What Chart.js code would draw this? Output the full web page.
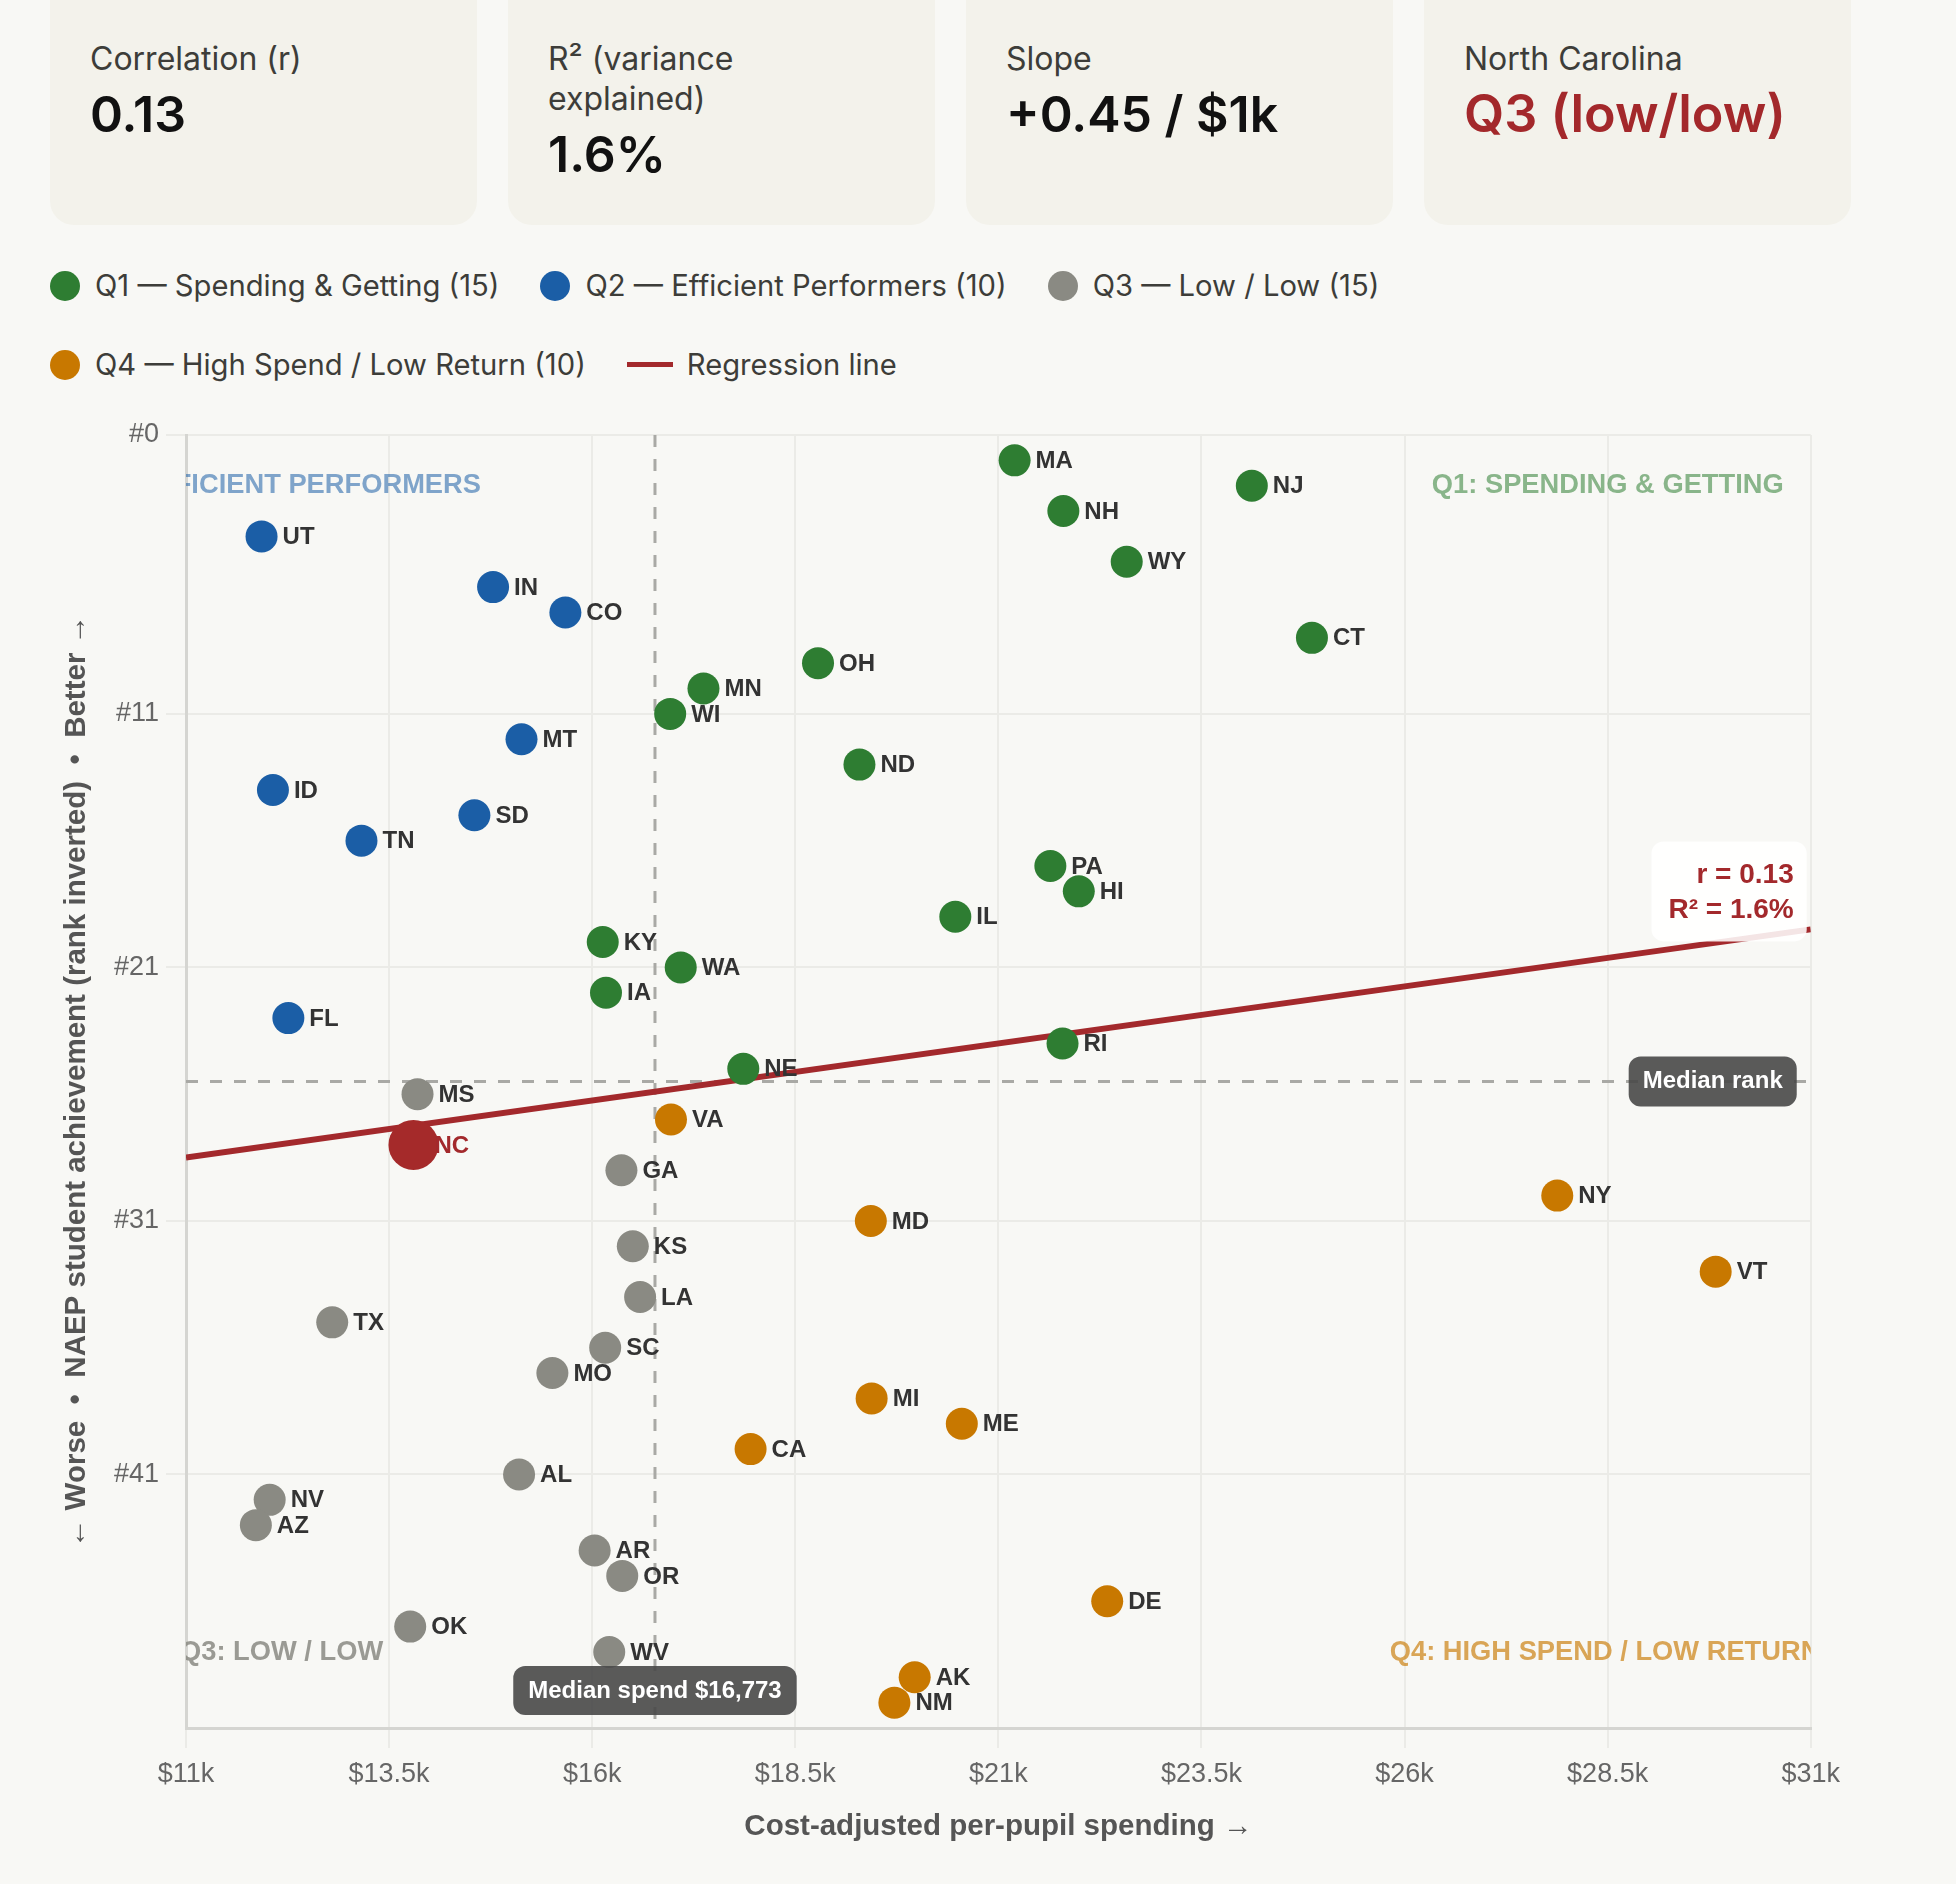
<!DOCTYPE html>
<html>
<head>
<meta charset="utf-8">
<script src="https://cdn.jsdelivr.net/npm/chart.js@4.4.1/dist/chart.umd.min.js"></script>
<style>
  html, body { margin: 0; padding: 0; background: #f8f8f5; }
  body { width: 1956px; height: 1884px; overflow: hidden; position: relative;
         font-family: Inter, "Noto Sans", sans-serif; color: #3b3b37; }
  .cards { position: absolute; left: 50px; top: -24px; display: flex; gap: 31px; }
  .card { width: 427px; height: 249px; box-sizing: border-box; padding: 63px 40px 0 40px;
          background: #f3f2eb; border-radius: 24px; }
  .card .lbl { font-size: 32px; line-height: 40px; color: #3d3d39; }
  .card .val { font-size: 50px; line-height: 56px; font-weight: 600; color: #111; margin-top: 7px; }
  .card .val.red { color: #a3282b; font-size: 52px; }
  .legend { position: absolute; left: 50px; top: 268px; width: 1800px; display: flex; flex-wrap: wrap;
            column-gap: 41px; row-gap: 44px; }
  .item { display: flex; align-items: center; height: 35px; font-size: 29.2px; color: #3d3d39; }
  .dot { width: 30px; height: 30px; border-radius: 50%; margin-right: 15px; }
  .bar { width: 46px; height: 5px; margin-right: 14px; }
  #wrap { position: absolute; left: 50px; top: 410px; width: 1800px; height: 1436px; }
</style>
</head>
<body>
<div class="cards">
  <div class="card"><div class="lbl">Correlation (r)</div><div class="val">0.13</div></div>
  <div class="card"><div class="lbl">R² (variance explained)</div><div class="val">1.6%</div></div>
  <div class="card"><div class="lbl">Slope</div><div class="val">+0.45 / $1k</div></div>
  <div class="card"><div class="lbl">North Carolina</div><div class="val red">Q3 (low/low)</div></div>
</div>
<div class="legend" id="legend"></div>
<div id="wrap"><canvas id="chart"></canvas></div>

<script>
// spending in $k (cost-adjusted), rank = NAEP achievement rank (1 = best)
const q1States = ['MA', 'NJ', 'NH', 'WY', 'CT', 'OH', 'MN', 'WI', 'ND', 'PA', 'HI', 'IL', 'KY', 'WA', 'IA', 'RI', 'NE'];
const q1Spend  = [21.20, 24.12, 21.80, 22.58, 24.86, 18.78, 17.37, 16.96, 19.29, 21.64, 21.99, 20.47, 16.13, 17.09, 16.17, 21.79, 17.86];
const q1Rank   = [1, 2, 3, 5, 8, 9, 10, 11, 13, 17, 18, 19, 20, 21, 22, 24, 25];

const q2States = ['UT', 'IN', 'CO', 'MT', 'ID', 'SD', 'TN', 'FL'];
const q2Spend  = [11.93, 14.78, 15.67, 15.13, 12.07, 14.55, 13.16, 12.26];
const q2Rank   = [4, 6, 7, 12, 14, 15, 16, 23];

const q3States = ['MS', 'GA', 'KS', 'LA', 'TX', 'SC', 'MO', 'AL', 'NV', 'AZ', 'AR', 'OR', 'OK', 'WV'];
const q3Spend  = [13.85, 16.36, 16.50, 16.59, 12.80, 16.16, 15.51, 15.10, 12.03, 11.86, 16.03, 16.37, 13.76, 16.21];
const q3Rank   = [26, 29, 32, 34, 35, 36, 37, 41, 42, 43, 44, 45, 47, 48];

const q4States = ['VA', 'NY', 'MD', 'VT', 'MI', 'ME', 'CA', 'DE', 'AK', 'NM'];
const q4Spend  = [16.97, 27.88, 19.43, 29.83, 19.44, 20.55, 17.95, 22.34, 19.97, 19.72];
const q4Rank   = [27, 30, 31, 33, 38, 39, 40, 46, 49, 50];

const ncStates = ['NC'];
const ncSpend  = [13.80];
const ncRank   = [28];

// regression line end points
const regSpend = [11, 31];
const regRank  = [28.5, 19.5];

const medianSpend = 16.773;
const medianRank = 25.5;
const yTicks = [0, 11, 21, 31, 41];

const legendLabels = ['Q1 — Spending & Getting (15)', 'Q2 — Efficient Performers (10)',
                      'Q3 — Low / Low (15)', 'Q4 — High Spend / Low Return (10)'];

const GREEN = '#2e7d32', BLUE = '#1b5ea6', GRAY = '#8a8a83', ORANGE = '#c87800', RED = '#a3292c';
const FONT = 'Helvetica, Arial, "Liberation Sans", sans-serif';

// html legend
const legendEl = document.getElementById('legend');
[GREEN, BLUE, GRAY, ORANGE].forEach((c, i) => {
  legendEl.insertAdjacentHTML('beforeend',
    '<div class="item"><span class="dot" style="background:' + c + '"></span>' + legendLabels[i] + '</div>');
});
legendEl.insertAdjacentHTML('beforeend',
  '<div class="item"><span class="bar" style="background:' + RED + '"></span>Regression line</div>');

function pts(spend, rank, states) {
  return spend.map((v, i) => ({ x: v, y: rank[i], state: states[i] }));
}

function pointSet(spend, rank, states, color, r, order) {
  return {
    type: 'scatter',
    data: pts(spend, rank, states),
    backgroundColor: color,
    borderWidth: 0,
    pointRadius: r,
    pointHoverRadius: r,
    order: order
  };
}

const quadLabels = [
  { text: 'Q2: EFFICIENT PERFORMERS', color: 'rgba(27,94,166,0.55)', align: 'right', x: a => a.left + 295, y: a => a.top + 50 },
  { text: 'Q1: SPENDING & GETTING', color: 'rgba(46,125,50,0.55)', align: 'right', x: a => a.right - 27, y: a => a.top + 50 },
  { text: 'Q3: LOW / LOW', color: 'rgba(138,138,131,0.85)', align: 'left', x: a => a.left - 6, y: a => a.bottom - 76 },
  { text: 'Q4: HIGH SPEND / LOW RETURN', color: 'rgba(200,120,0,0.65)', align: 'left', x: a => a.right - 421, y: a => a.bottom - 76 }
];

function roundBox(ctx, x, y, w, h, r, fill) {
  ctx.beginPath();
  ctx.roundRect(x, y, w, h, r);
  ctx.fillStyle = fill;
  ctx.fill();
}

const overlay = {
  id: 'overlay',
  beforeDatasetsDraw(chart) {
    const { ctx, chartArea: a, scales: { x, y } } = chart;
    ctx.save();
    ctx.beginPath();
    ctx.rect(a.left, a.top, a.right - a.left, a.bottom - a.top);
    ctx.clip();
    ctx.font = 'bold 27.3px ' + FONT;
    ctx.textBaseline = 'middle';
    quadLabels.forEach(q => {
      ctx.fillStyle = q.color;
      ctx.textAlign = q.align;
      ctx.fillText(q.text, q.x(a), q.y(a));
    });
    ctx.setLineDash([12, 12]);
    ctx.lineWidth = 3;
    ctx.strokeStyle = '#a9a9a5';
    const mx = x.getPixelForValue(medianSpend);
    ctx.beginPath(); ctx.moveTo(mx, a.top); ctx.lineTo(mx, a.bottom); ctx.stroke();
    const my = y.getPixelForValue(medianRank);
    ctx.beginPath(); ctx.moveTo(a.left, my); ctx.lineTo(a.right, my); ctx.stroke();
    ctx.restore();
  },
  afterDatasetsDraw(chart) {
    const { ctx, chartArea: a, scales: { x, y } } = chart;
    ctx.save();
    // state labels
    ctx.font = 'bold 24px ' + FONT;
    ctx.textBaseline = 'middle';
    ctx.textAlign = 'left';
    chart.data.datasets.forEach((ds, i) => {
      if (ds.type !== 'scatter') return;
      const meta = chart.getDatasetMeta(i);
      meta.data.forEach((el, j) => {
        const st = ds.data[j].state;
        ctx.fillStyle = st === 'NC' ? RED : '#333';
        ctx.fillText(st, el.x + 21, el.y + 1);
      });
    });

    // median spend tag
    ctx.textAlign = 'center';
    const mx = x.getPixelForValue(medianSpend);
    const t1 = 'Median spend $16,773';
    const w1 = ctx.measureText(t1).width + 30;
    roundBox(ctx, mx - w1 / 2, a.bottom - 62, w1, 49, 12, 'rgba(72,72,72,0.9)');
    ctx.fillStyle = '#fff';
    ctx.fillText(t1, mx, a.bottom - 37);

    // median rank tag
    const my = y.getPixelForValue(medianRank);
    const t2 = 'Median rank';
    const w2 = ctx.measureText(t2).width + 28;
    roundBox(ctx, a.right - 14 - w2, my - 25, w2, 50, 12, 'rgba(72,72,72,0.9)');
    ctx.fillStyle = '#fff';
    ctx.fillText(t2, a.right - 14 - w2 / 2, my);

    // r / R² tag
    ctx.font = 'bold 28px ' + FONT;
    const ly = y.getPixelForValue(regRank[1]);
    const s1 = 'r = 0.13', s2 = 'R² = 1.6%';
    const w3 = Math.max(ctx.measureText(s1).width, ctx.measureText(s2).width) + 30;
    const bx = a.right - 4 - w3, by = ly + 12 - 100;
    roundBox(ctx, bx, by, w3, 100, 12, 'rgba(255,255,255,0.88)');
    ctx.fillStyle = RED;
    ctx.textAlign = 'right';
    ctx.fillText(s1, a.right - 17, by + 34);
    ctx.fillText(s2, a.right - 17, by + 69);
    ctx.restore();
  }
};

Chart.defaults.font.family = FONT;

new Chart(document.getElementById('chart'), {
  type: 'scatter',
  data: {
    datasets: [
      pointSet(ncSpend, ncRank, ncStates, '#a52a2a', 25, 0),
      pointSet(q1Spend, q1Rank, q1States, GREEN, 16, 1),
      pointSet(q2Spend, q2Rank, q2States, BLUE, 16, 1),
      pointSet(q3Spend, q3Rank, q3States, GRAY, 16, 1),
      pointSet(q4Spend, q4Rank, q4States, ORANGE, 16, 1),
      {
        type: 'line',
        data: regSpend.map((v, i) => ({ x: v, y: regRank[i] })),
        borderColor: RED,
        borderWidth: 6,
        pointRadius: 0,
        showLine: true,
        fill: false,
        order: 10
      }
    ]
  },
  options: {
    responsive: true,
    maintainAspectRatio: false,
    animation: false,
    events: [],
    layout: { padding: 0 },
    plugins: { legend: { display: false }, tooltip: { enabled: false } },
    scales: {
      x: {
        type: 'linear',
        min: 11,
        max: 31,
        ticks: { stepSize: 2.5, callback: v => '$' + v + 'k', font: { size: 27 }, color: '#666',
                 padding: 10, maxRotation: 0, autoSkip: false },
        grid: { color: '#ebebe7', lineWidth: 2, tickLength: 20 },
        border: { color: '#d5d5d1', width: 3 },
        title: { display: true, text: 'Cost-adjusted per-pupil spending →', color: '#555',
                 font: { size: 29.5, weight: 'bold' }, padding: { top: 0, bottom: 1 } },
        afterFit(s) { s.height = 118; }
      },
      y: {
        type: 'linear',
        reverse: true,
        min: 0,
        max: 51,
        afterBuildTicks(s) { s.ticks = yTicks.map(v => ({ value: v })); },
        ticks: { callback: v => '#' + v, font: { size: 27 }, color: '#666', padding: 7 },
        grid: { color: '#ebebe7', lineWidth: 2, tickLength: 20 },
        border: { color: '#d5d5d1', width: 3 },
        title: { display: true, text: '← Worse  •  NAEP student achievement (rank inverted)  •  Better →',
                 color: '#555', font: { size: 29.5, weight: 'bold' }, padding: { top: 9, bottom: 20 } },
        afterFit(s) { s.width = 136; }
      }
    }
  },
  plugins: [overlay]
});
</script>
</body>
</html>
